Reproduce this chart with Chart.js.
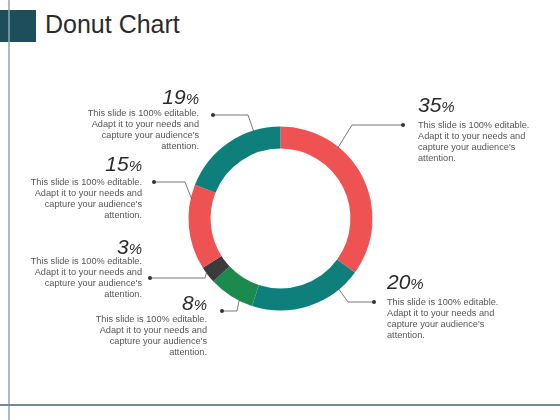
<!DOCTYPE html>
<html>
<head>
<meta charset="utf-8">
<script src="https://cdn.jsdelivr.net/npm/chart.js@4.4.1/dist/chart.umd.min.js"></script>
<style>
  html, body { margin: 0; padding: 0; background: #fff; }
  #wrap { position: relative; width: 560px; height: 420px; overflow: hidden; }
  #chart { position: absolute; left: 0; top: 0; }
  .square { position: absolute; left: 0; top: 10px; width: 36px; height: 32px; background: #1e4d5c; }
  .vline { position: absolute; left: 8px; top: 0; width: 1.5px; height: 420px; background: #a9bcc3; }
  .vline-dark { position: absolute; left: 8px; top: 10px; width: 1.5px; height: 32px; background: #6d93a0; }
  .hline { position: absolute; left: 0; top: 404px; width: 560px; height: 1.5px; background: #75898f; }
  h1 { position: absolute; left: 45px; top: 10px; margin: 0; font: 25px "Liberation Sans", Arial, sans-serif; color: #2b2b2b; font-weight: normal; }
</style>
</head>
<body>
<div id="wrap">
  <div class="vline"></div>
  <div class="square"></div>
  <div class="vline-dark"></div>
  <div class="hline"></div>
  <h1>Donut Chart</h1>
  <canvas id="chart" width="560" height="420"></canvas>
</div>
<script>
// Slices, clockwise from the top
const labels = ['35%', '20%', '8%', '3%', '15%', '19%'];
const values = [35, 20, 8, 3, 15, 19];
const colors = ['#ef5253', '#0f7f7b', '#1c8a4c', '#3b3b3b', '#ef5253', '#0f7f7b'];
const bodyLines = ['This slide is 100% editable.', 'Adapt it to your needs and', "capture your audience's", 'attention.'];

// Callout layout per slice: where on the slice the leader starts, elbow, dot and text block
const callouts = [
    { t: 0.31, elbow: [352, 125], dot: [403, 125], align: 'left',  x: 418, numY: 104, textY: 125 },
    { t: 0.20, elbow: [348, 302], dot: [374, 302], align: 'left',  x: 387, numY: 281, textY: 302 },
    { t: 0.31, elbow: [237, 311], dot: [222, 311], align: 'right', x: 207, numY: 302, textY: 319 },
    { t: 0.68, elbow: [205, 278], dot: [150, 278], align: 'right', x: 142, numY: 246, textY: 261 },
    { t: 0.83, elbow: [185, 182], dot: [154, 182], align: 'right', x: 142, numY: 163, textY: 182 },
    { t: 0.75, elbow: [248, 115], dot: [213, 115], align: 'right', x: 199, numY: 96,  textY: 113 }
];

const calloutPlugin = {
    id: 'callouts',
    afterDraw(chart) {
        const ctx = chart.ctx;
        const arcs = chart.getDatasetMeta(0).data;
        ctx.save();
        arcs.forEach((arc, i) => {
            const c = callouts[i];
            const a = arc.startAngle + c.t * (arc.endAngle - arc.startAngle);
            const px = arc.x + Math.cos(a) * (arc.outerRadius - 1);
            const py = arc.y + Math.sin(a) * (arc.outerRadius - 1);

            // leader line
            ctx.strokeStyle = '#555';
            ctx.lineWidth = 0.8;
            ctx.beginPath();
            ctx.moveTo(px, py);
            ctx.lineTo(c.elbow[0], c.elbow[1]);
            ctx.lineTo(c.dot[0], c.dot[1]);
            ctx.stroke();
            ctx.fillStyle = '#333';
            ctx.beginPath();
            ctx.arc(c.dot[0], c.dot[1], 2, 0, Math.PI * 2);
            ctx.fill();

            // big percentage, with smaller % sign
            const num = labels[i].replace('%', '');
            ctx.textBaseline = 'alphabetic';
            ctx.fillStyle = '#2a2a2a';
            const bigFont = 'italic 21px "Liberation Sans", Arial, sans-serif';
            const smallFont = 'italic 15px "Liberation Sans", Arial, sans-serif';
            ctx.font = bigFont;
            const wNum = ctx.measureText(num).width;
            ctx.font = smallFont;
            const wPct = ctx.measureText('%').width;
            const startX = c.align === 'left' ? c.x : c.x - wNum - wPct;
            const base = c.numY + 7.5;
            ctx.textAlign = 'left';
            ctx.font = bigFont;
            ctx.fillText(num, startX, base);
            ctx.font = smallFont;
            ctx.fillText('%', startX + wNum, base);

            // body text
            ctx.font = '9.2px "Liberation Sans", Arial, sans-serif';
            ctx.fillStyle = '#555';
            ctx.textAlign = c.align;
            ctx.textBaseline = 'middle';
            bodyLines.forEach((line, j) => {
                ctx.fillText(line, c.x, c.textY + j * 11);
            });
        });
        ctx.restore();
    }
};

new Chart(document.getElementById('chart'), {
    type: 'doughnut',
    data: {
        labels: labels,
        datasets: [{
            data: values,
            backgroundColor: colors,
            borderWidth: 0
        }]
    },
    options: {
        responsive: false,
        animation: false,
        cutout: '76%',
        layout: {
            padding: { left: 188.5, right: 187.5, top: 126.5, bottom: 109.5 }
        },
        plugins: {
            legend: { display: false },
            tooltip: { enabled: false }
        }
    },
    plugins: [calloutPlugin]
});
</script>
</body>
</html>
